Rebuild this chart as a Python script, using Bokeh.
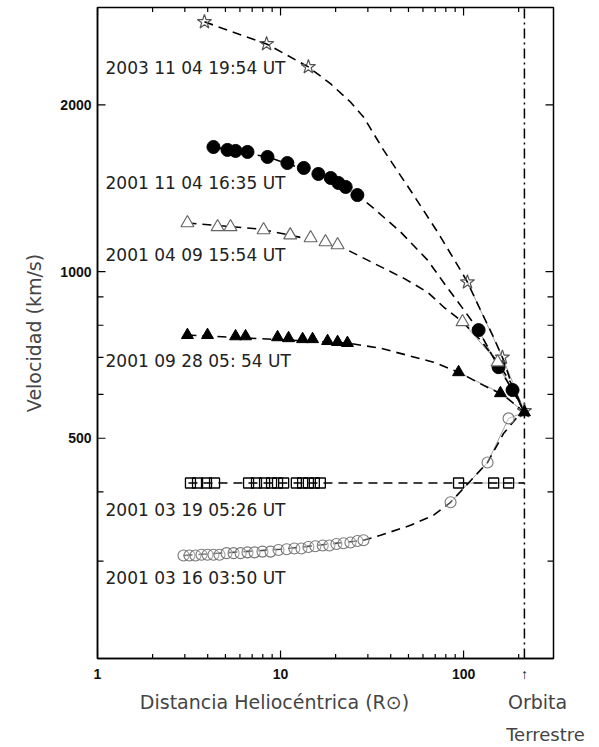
import math
from bokeh.plotting import figure
from bokeh.models import LogAxis, FixedTicker
from bokeh.embed import file_html
from bokeh.resources import INLINE
from bokeh.core.properties import value

# ---------------- data (R in solar radii, V in km/s) ----------------
# 2003 11 04 19:54 UT  (open stars)
star_r = [3.84, 8.39, 14.2, 105.0, 163.0, 215.0]
star_v = [2826, 2578, 2343, 957, 700, 560]
star_fit_r = [3.84, 8.39, 14.2, 18.8, 24.1, 28.4, 36.5, 53.3, 72.1, 96.3, 105.0, 123.8, 145.9, 165.4, 187.6, 215.0]
star_fit_v = [2826, 2578, 2343, 2183, 2025, 1903, 1659, 1375, 1179, 1006, 957, 852, 761, 692, 611, 557]

# 2001 11 04 16:35 UT  (filled circles)
fcirc_r = [4.30, 5.13, 5.68, 6.60, 8.49, 10.9, 13.4, 16.1, 18.8, 20.7, 22.7, 26.3, 120.8, 155.3, 185.2]
fcirc_v = [1679, 1659, 1652, 1645, 1611, 1571, 1539, 1501, 1476, 1446, 1422, 1375, 784, 672, 611]
fcirc_fit_r = [4.30, 8.49, 16.1, 26.3, 32.2, 45.3, 63.6, 79.7, 98.7, 120.8, 155.3, 185.2, 215.0]
fcirc_fit_v = [1679, 1611, 1501, 1375, 1302, 1179, 1049, 945, 859, 784, 672, 611, 557]

# 2001 04 09 15:54 UT  (open triangles)
otri_r = [3.10, 4.53, 5.33, 8.08, 11.3, 14.6, 17.6, 20.5, 98.7, 153.4]
otri_v = [1224, 1204, 1204, 1189, 1164, 1150, 1131, 1117, 811, 686]
otri_fit_r = [3.10, 7.78, 20.5, 32.2, 47.0, 63.6, 77.8, 98.7, 123.8, 153.4, 185.2, 215.0]
otri_fit_v = [1224, 1193, 1117, 1036, 973, 918, 863, 811, 752, 686, 623, 557]

# 2001 09 28 05:54 UT  (filled triangles)
ftri_r = [3.10, 3.99, 5.68, 6.44, 9.63, 11.06, 13.2, 14.96, 18.07, 20.5, 23.2, 93.9, 159.0, 215.0]
ftri_v = [768, 768, 764, 764, 761, 758, 755, 755, 749, 746, 743, 658, 603, 557]
ftri_fit_r = [3.10, 23.2, 35.2, 49.4, 68.6, 93.9, 128.6, 165.4, 215.0]
ftri_fit_v = [768, 743, 727, 706, 686, 658, 623, 598, 557]

# 2001 03 19 05:26 UT  (open squares)
sq_r = [3.22, 3.52, 3.94, 4.36, 6.69, 7.39, 8.18, 8.93, 9.63, 10.4, 12.2, 13.2, 14.2, 15.3, 16.5, 93.9, 146.0, 176.2]
sq_v = [415, 415, 415, 415, 415, 415, 415, 415, 415, 415, 415, 415, 415, 415, 415, 415, 415, 415]
sq_fit_r = [3.14, 215.0]
sq_fit_v = [415, 415]

# 2001 03 16 03:50 UT  (open circles)
ocirc_r = [2.95, 3.18, 3.43, 3.70, 3.99, 4.30, 4.64, 5.07, 5.54, 6.05, 6.60, 7.21, 7.97, 8.82,
           9.75, 10.8, 11.9, 13.0, 14.2, 15.5, 17.0, 18.5, 20.2, 22.1, 24.1, 26.3, 28.4,
           84.9, 135.2, 176.2]
ocirc_v = [307, 307, 307, 308, 308, 308, 308, 310, 310, 310, 311, 311, 312, 312,
           314, 315, 316, 316, 318, 319, 320, 320, 322, 323, 324, 326, 327,
           383, 452, 543]
ocirc_fit_r = [2.95, 10.0, 28.4, 35.2, 51.3, 68.6, 84.9, 109.2, 135.2, 165.4, 204.8, 215.0]
ocirc_fit_v = [307, 315, 327, 334, 348, 363, 383, 419, 452, 510, 555, 557]

event_labels = ["2003 11 04 19:54 UT", "2001 11 04 16:35 UT", "2001 04 09 15:54 UT",
                "2001 09 28 05: 54 UT", "2001 03 19 05:26 UT", "2001 03 16 03:50 UT"]
event_label_v = [2333, 1446, 1071, 689, 371, 279]

earth_r = 215.0
x_major = [1, 10, 100]
x_major_labels = {1: "1", 10: "10", 100: "100", 215: "↑"}
x_minor = [2, 3, 4, 5, 6, 7, 8, 9, 20, 30, 40, 50, 60, 70, 80, 90, 200]
y_major = [500, 1000, 2000]
y_minor = [300, 400, 600, 700, 800, 900]

x_title = "Distancia Heliocéntrica (R⊙)"
orbit_line1 = "Orbita"
orbit_line2 = "Terrestre"

X0, X1 = 1, 310
Y0, Y1 = 200, 3000

# ---------------- figure ----------------
p = figure(width=599, height=747, x_axis_type="log", y_axis_type="log",
           x_range=(X0, X1), y_range=(Y0, Y1),
           output_backend="svg", toolbar_location=None,
           min_border_left=97, min_border_right=46, min_border_top=7, min_border_bottom=87)
p.xgrid.visible = False
p.ygrid.visible = False
p.outline_line_color = "black"
p.outline_line_width = 1.5

def style_axis(ax, major, labels=None):
    ax.ticker = FixedTicker(ticks=major, minor_ticks=[])
    ax.axis_line_color = "black"
    ax.axis_line_width = 1.5
    ax.major_tick_in = 0
    ax.major_tick_out = 0
    ax.minor_tick_in = 0
    ax.minor_tick_out = 0
    ax.major_tick_line_color = None
    ax.minor_tick_line_color = None
    if labels is not None:
        ax.major_label_overrides = labels
    ax.major_label_text_font = "Liberation Sans"
    ax.major_label_text_font_style = "bold"
    ax.major_label_text_font_size = "14px"
    ax.major_label_text_color = "#111111"

xa = p.xaxis[0]
style_axis(xa, x_major + [earth_r], labels=x_major_labels)
xa.major_label_standoff = 7
ya = p.yaxis[0]
style_axis(ya, y_major)
ya.major_label_standoff = 6
ya.axis_label = "Velocidad (km/s)"
ya.axis_label_text_font = "DejaVu Sans"
ya.axis_label_text_font_style = "normal"
ya.axis_label_text_font_size = "19px"
ya.axis_label_text_color = "#444444"
ya.axis_label_standoff = 12

# caption rows below the frame, written as tick labels of label-only axes
def caption_axis(label_map, size, standoff):
    ax = LogAxis(ticker=FixedTicker(ticks=list(label_map.keys()), minor_ticks=[]))
    ax.major_label_overrides = label_map
    ax.axis_line_color = None
    ax.major_tick_line_color = None
    ax.minor_tick_line_color = None
    ax.major_tick_in = 0
    ax.major_tick_out = 0
    ax.minor_tick_in = 0
    ax.minor_tick_out = 0
    ax.major_label_standoff = standoff
    ax.major_label_text_font = "DejaVu Sans"
    ax.major_label_text_font_style = "normal"
    ax.major_label_text_font_size = size
    ax.major_label_text_color = "#444444"
    p.add_layout(ax, "below")

caption_axis({9.27: x_title, 253.6: orbit_line1}, "19px", 6)
caption_axis({280.4: orbit_line2}, "18px", 8)

# tick marks pointing into the frame on all four sides (half of each dash is clipped by the frame)
tick = dict(marker="dash", line_color="black", line_width=1.2)
p.scatter(x=x_major, y=[Y0] * len(x_major), angle=math.pi / 2, size=16, **tick)
p.scatter(x=x_minor, y=[Y0] * len(x_minor), angle=math.pi / 2, size=9, **tick)
p.scatter(x=x_major, y=[Y1] * len(x_major), angle=math.pi / 2, size=16, **tick)
p.scatter(x=x_minor, y=[Y1] * len(x_minor), angle=math.pi / 2, size=9, **tick)
p.scatter(x=[X0] * len(y_major), y=y_major, size=16, **tick)
p.scatter(x=[X0] * len(y_minor), y=y_minor, size=12, **tick)
p.scatter(x=[X1] * len(y_major), y=y_major, size=16, **tick)
p.scatter(x=[X1] * len(y_minor), y=y_minor, size=12, **tick)

# Earth orbit line
p.line(x=[earth_r, earth_r], y=[Y0, Y1], line_color="black", line_width=1.5, line_dash="10 4 2 4")

# thin solid connectors near Earth
thin = dict(line_color="#888888", line_width=0.8)
p.line(star_r[3:], star_v[3:], **thin)
p.line(fcirc_r[12:] + [earth_r], fcirc_v[12:] + [557], **thin)
p.line(otri_r[8:] + [earth_r], otri_v[8:] + [557], **thin)
p.line(ftri_r[11:], ftri_v[11:], **thin)
p.line(sq_r[15:] + [earth_r], sq_v[15:] + [415], **thin)
p.line(ocirc_r[27:] + [earth_r], ocirc_v[27:] + [557], **thin)

# dashed fits
dash = dict(line_color="black", line_width=1.6, line_dash="9 6")
p.line(star_fit_r, star_fit_v, **dash)
p.line(fcirc_fit_r, fcirc_fit_v, **dash)
p.line(otri_fit_r, otri_fit_v, **dash)
p.line(ftri_fit_r, ftri_fit_v, **dash)
p.line(sq_fit_r, sq_fit_v, **dash)
p.line(ocirc_fit_r, ocirc_fit_v, **dash)

# markers
p.scatter(star_r, star_v, marker="star", size=15, fill_color=None, line_color="#555555", line_width=1.2)
p.scatter(fcirc_r, fcirc_v, marker="circle", size=13, fill_color="black", line_color="black")
p.scatter(otri_r, otri_v, marker="triangle", size=13, fill_color="white", line_color="#666666", line_width=1.2)
p.scatter(ftri_r, ftri_v, marker="triangle", size=12, fill_color="black", line_color="black")
p.scatter(sq_r, sq_v, marker="square", size=10, fill_color="white", fill_alpha=0.0, line_color="black", line_width=1.3)
p.scatter(ocirc_r, ocirc_v, marker="circle", size=11, fill_color="white", fill_alpha=0.3, line_color="#777777", line_width=1.1)

# event labels
p.text(x=[1.106] * len(event_labels), y=event_label_v, text=event_labels,
       text_font=value("DejaVu Sans"), text_font_size="17px", text_baseline="middle",
       text_align="left", text_color="#222222")

open("out.html", "w").write(file_html(p, INLINE))
